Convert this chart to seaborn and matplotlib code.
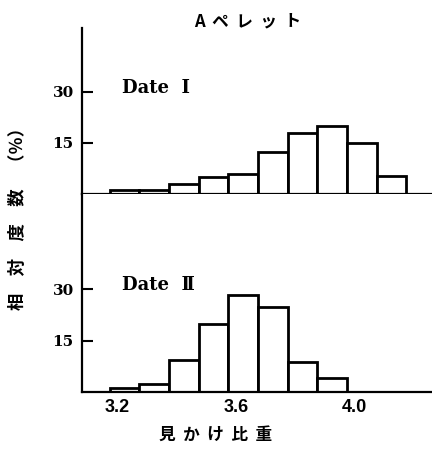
import numpy as np
import pandas as pd
import matplotlib
matplotlib.use("Agg")
import matplotlib.pyplot as plt
import seaborn as sns

# ---- data ----
centers_1 = [3.225, 3.325, 3.425, 3.525, 3.625, 3.725, 3.825, 3.925, 4.025, 4.125]
freq_1 = [1.1, 1.3, 3.0, 5.1, 6.0, 12.4, 17.9, 19.9, 15.0, 5.4]
centers_2 = [3.225, 3.325, 3.425, 3.525, 3.625, 3.725, 3.825, 3.925]
freq_2 = [1.2, 2.3, 9.4, 19.9, 28.3, 24.8, 8.8, 4.2]
bin_width = 0.1
x_ticks = [3.2, 3.6, 4.0]
x_tick_labels = ["3.2", "3.6", "4.0"]
y_ticks = [15, 30]
title = "A  ペ  レ  ッ  ト"
panel_labels = ["Date  Ⅰ", "Date  Ⅱ"]
x_label = "見  か  け  比  重"
y_label = "相　対　度　数　（％）"

sns.set_theme(style="white")
plt.rcParams["font.family"] = ["Noto Sans CJK JP", "DejaVu Sans"]
plt.rcParams["text.color"] = "black"
plt.rcParams["xtick.color"] = "black"
plt.rcParams["ytick.color"] = "black"

fig = plt.figure(figsize=(4.32, 4.49), dpi=100)
ax1 = fig.add_axes([0.19, 0.568, 0.81, 0.3696])
ax2 = fig.add_axes([0.19, 0.127, 0.81, 0.441])

for ax, c, f, ymax in [(ax1, centers_1, freq_1, 48.8), (ax2, centers_2, freq_2, 57.9)]:
    df = pd.DataFrame({"sg": c, "pct": f})
    sns.histplot(data=df, x="sg", weights="pct", binwidth=bin_width,
                 binrange=(min(c) - bin_width / 2, max(c) + bin_width / 2),
                 ax=ax, color="white", edgecolor="black", linewidth=2.0, alpha=1)
    ax.set_xlim(3.082, 4.261)
    ax.set_ylim(0, ymax)
    ax.set_xlabel("")
    ax.set_ylabel("")
    for s in ["top", "right"]:
        ax.spines[s].set_visible(False)
    for s in ["left", "bottom"]:
        ax.spines[s].set_color("black")
        ax.spines[s].set_linewidth(1.6)
    ax.set_yticks(y_ticks)
    ax.tick_params(axis="y", direction="in", length=8, width=1.5, pad=6,
                   colors="black", labelcolor="black", left=True)
    for lab in ax.get_yticklabels():
        lab.set_fontfamily(["DejaVu Serif", "DejaVu Sans"])
        lab.set_fontweight("bold")
        lab.set_fontsize(11)

ax1.set_xticks([])
ax2.set_xticks(x_ticks)
ax2.set_xticklabels(x_tick_labels)
ax2.tick_params(axis="x", length=0, pad=5, colors="black", labelcolor="black")
for lab in ax2.get_xticklabels():
    lab.set_fontfamily(["Liberation Sans", "DejaVu Sans"])
    lab.set_fontweight("bold")
    lab.set_fontsize(13)

fig.text(0.573, 0.953, title, ha="center", va="center", fontsize=12,
         fontweight="bold", color="black", family=["Noto Sans CJK JP", "DejaVu Sans"])
fig.text(0.282, 0.803, panel_labels[0], ha="left", va="center", fontsize=13,
         fontweight="bold", color="black", family=["DejaVu Serif", "DejaVu Sans"])
fig.text(0.282, 0.365, panel_labels[1], ha="left", va="center", fontsize=13,
         fontweight="bold", color="black", family=["DejaVu Serif", "DejaVu Sans"])
fig.text(0.5, 0.031, x_label, ha="center", va="center", fontsize=12,
         fontweight="bold", color="black", family=["Noto Sans CJK JP", "DejaVu Sans"])
fig.text(0.042, 0.523, y_label, ha="center", va="center", rotation=90, fontsize=12.5,
         fontweight="bold", color="black", family=["Noto Sans CJK JP", "DejaVu Sans"])

fig.savefig("out.png", dpi=100)
